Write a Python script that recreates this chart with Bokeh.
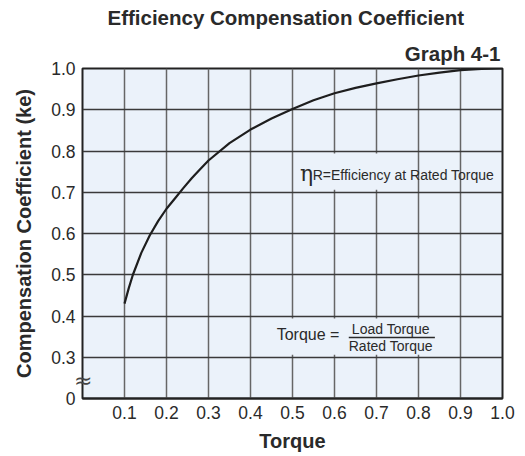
from bokeh.plotting import figure
from bokeh.models import (Range1d, FixedTicker, Label, BoxAnnotation, ColumnDataSource, Title,
                          LinearAxis)
from bokeh.embed import file_html
from bokeh.resources import INLINE

# ---- data ----
torque = [0.10, 0.11, 0.12, 0.14, 0.16, 0.18, 0.20, 0.22, 0.24, 0.26, 0.28, 0.30, 0.35, 0.40,
          0.45, 0.50, 0.55, 0.60, 0.65, 0.70, 0.75, 0.80, 0.85, 0.90, 0.95, 1.00]
ke = [0.430, 0.467, 0.500, 0.553, 0.595, 0.630, 0.660, 0.685, 0.710, 0.734, 0.756, 0.777, 0.819, 0.852,
      0.879, 0.902, 0.923, 0.940, 0.953, 0.964, 0.974, 0.983, 0.990, 0.996, 0.999, 1.000]
x_ticks = [0.1, 0.2, 0.3, 0.4, 0.5, 0.6, 0.7, 0.8, 0.9, 1.0]
x_tick_labels = ["0.1", "0.2", "0.3", "0.4", "0.5", "0.6", "0.7", "0.8", "0.9", "1.0"]
y_ticks = [0.2, 0.3, 0.4, 0.5, 0.6, 0.7, 0.8, 0.9, 1.0]
y_tick_labels = ["0", "0.3", "0.4", "0.5", "0.6", "0.7", "0.8", "0.9", "1.0"]
break_tick = [0.244]
break_label = ["≈"]

FONT = "Liberation Sans"
TXT = "#2a2a2a"
BG = "#EBF2FA"

p = figure(width=518, height=454, x_range=Range1d(0, 1.0), y_range=Range1d(0.2, 1.0),
           output_backend="svg", toolbar_location=None, title_location=None,
           min_border_left=82, min_border_right=16, min_border_top=67, min_border_bottom=53)
p.background_fill_color = BG
p.border_fill_color = "white"
p.outline_line_color = "#222222"
p.outline_line_width = 2

p.xaxis.ticker = FixedTicker(ticks=x_ticks)
p.yaxis.ticker = FixedTicker(ticks=y_ticks)
p.xaxis.major_label_overrides = {t: l for t, l in zip(x_ticks, x_tick_labels)}
p.yaxis.major_label_overrides = {t: l for t, l in zip(y_ticks, y_tick_labels)}
for ax in (p.xaxis, p.yaxis):
    ax.major_tick_line_color = None
    ax.minor_tick_line_color = None
    ax.major_tick_out = 0
    ax.axis_line_color = "#222222"
    ax.axis_line_width = 2
    ax.major_label_text_font = FONT
    ax.major_label_text_font_size = "17.5px"
    ax.major_label_text_color = TXT
    ax.axis_label_text_font = FONT
    ax.axis_label_text_font_size = "20px"
    ax.axis_label_text_font_style = "bold"
    ax.axis_label_text_color = TXT
p.xaxis.axis_label = "Torque"
p.yaxis.axis_label = "Compensation Coefficient (ke)"
p.xaxis.major_label_standoff = 7
p.xaxis.axis_label_standoff = 8
p.yaxis.axis_line_color = None
p.yaxis.major_label_standoff = -4
p.yaxis.axis_label_standoff = 13

p.xgrid.grid_line_color = "#666666"
p.xgrid.grid_line_width = 1.5
p.ygrid.grid_line_color = "#3a3a3a"
p.ygrid.grid_line_width = 1.5

# axis-break mark: a label-only axis placed next to the frame, straddling the left border
brk = LinearAxis(ticker=FixedTicker(ticks=break_tick),
                 major_label_overrides={t: l for t, l in zip(break_tick, break_label)},
                 axis_line_color=None, major_tick_line_color=None, minor_tick_line_color=None,
                 major_tick_out=0, major_tick_in=0, major_label_standoff=-10,
                 major_label_text_font="DejaVu Sans", major_label_text_font_size="22px",
                 major_label_text_color="#444444")
p.left = [brk] + list(p.left)

# boxes behind annotation texts (hide grid lines)
p.add_layout(BoxAnnotation(left=0.515, right=0.78, bottom=0.706, top=0.794,
                           fill_color=BG, fill_alpha=1, line_color=None, level="underlay"))
p.add_layout(BoxAnnotation(left=0.43, right=0.86, bottom=0.306, top=0.394,
                           fill_color=BG, fill_alpha=1, line_color=None, level="underlay"))

src = ColumnDataSource(dict(x=torque, y=ke))
p.line("x", "y", source=src, line_color="#1e1e1e", line_width=2.2)

# titles (first added sits nearest the frame)
p.add_layout(Title(text="Graph 4-1", align="right", offset=2, standoff=8,
                   text_font=FONT, text_font_size="20.5px", text_font_style="bold",
                   text_color=TXT), "above")
p.add_layout(Title(text="Efficiency Compensation Coefficient", align="left", offset=25, standoff=10,
                   vertical_align="top", text_line_height=0.8,
                   text_font=FONT, text_font_size="20.5px", text_font_style="bold",
                   text_color=TXT), "above")

# eta annotation
p.add_layout(Label(x=0.518, y=0.745, text="η", text_font="DejaVu Serif", text_font_size="22px",
                   text_color=TXT, text_align="left", text_baseline="middle"))
p.add_layout(Label(x=0.548, y=0.7407, text="R=Efficiency at Rated Torque", text_font=FONT,
                   text_font_size="14px", text_color=TXT, text_align="left", text_baseline="middle"))

# torque formula
p.add_layout(Label(x=0.537, y=0.354, text="Torque =", text_font=FONT, text_font_size="16px",
                   text_color=TXT, text_align="center", text_baseline="middle"))
p.add_layout(Label(x=0.734, y=0.368, text="Load Torque", text_font=FONT, text_font_size="14px",
                   text_color=TXT, text_align="center", text_baseline="middle"))
p.add_layout(Label(x=0.734, y=0.327, text="Rated Torque", text_font=FONT, text_font_size="14px",
                   text_color=TXT, text_align="center", text_baseline="middle"))
p.segment(x0=[0.634], y0=[0.348], x1=[0.839], y1=[0.348], line_color=TXT, line_width=1.5)

open("out.html", "w").write(file_html(p, INLINE))
